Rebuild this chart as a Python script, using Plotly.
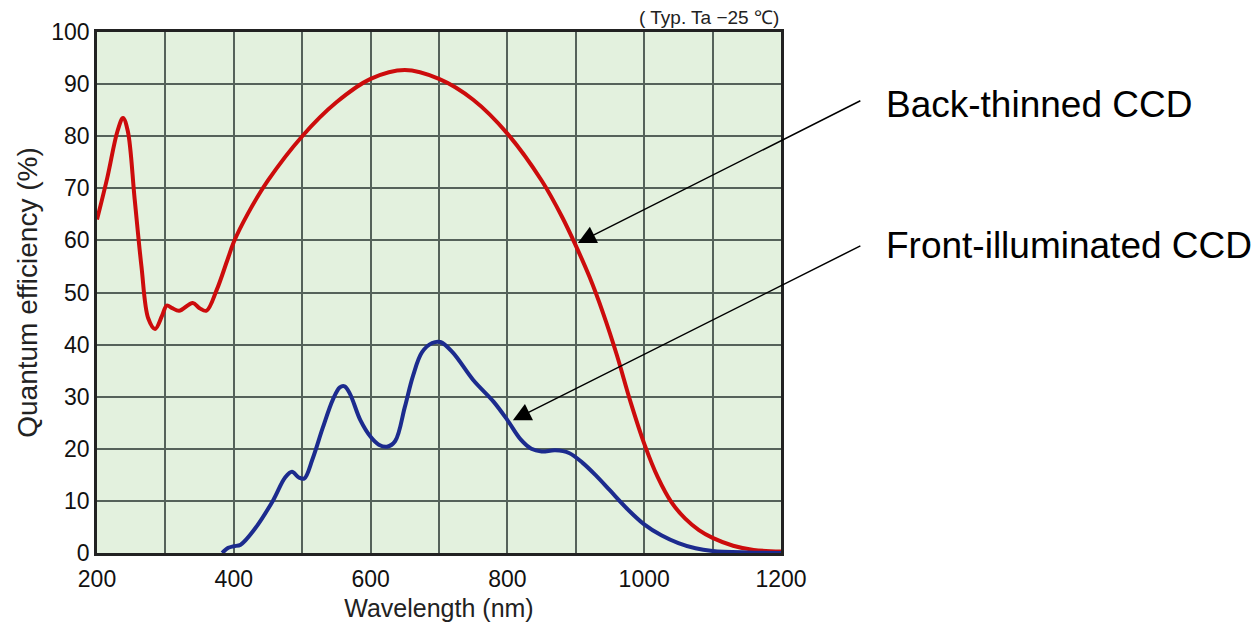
import plotly.graph_objects as go

# Back-thinned CCD (red)
bt_wl = [200, 215, 230, 238, 245, 255, 265, 275, 285, 295, 302, 310, 320, 340, 350, 360, 375, 390,
         400, 420, 450, 500, 550, 600, 650, 700, 750, 800, 850, 880, 900, 920, 940, 960, 980, 1000,
         1020, 1040, 1060, 1080, 1100, 1130, 1160, 1200]
bt_qe = [64, 72, 81, 83.5, 81, 68, 55, 45, 43, 45.5, 47.5, 47, 46.5, 48, 47, 46.5, 50.5, 56,
         59.7, 65, 71.5, 80, 86.5, 91, 92.7, 91, 87, 80.5, 71.5, 64.5, 59, 53, 46, 38, 29, 21,
         14.5, 9.7, 6.6, 4.4, 2.9, 1.4, 0.6, 0.3]

# Front-illuminated CCD (blue)
fi_wl = [383, 392, 400, 410, 430, 457, 475, 485, 495, 503, 515, 530, 545, 555, 562, 570, 585, 600,
         612, 624, 636, 650, 662, 675, 690, 702, 720, 750, 780, 800, 820, 835, 850, 870, 890, 910,
         930, 950, 975, 1000, 1025, 1050, 1075, 1100, 1150, 1200]
fi_qe = [0, 1, 1.3, 1.6, 4.5, 10, 14.5, 15.6, 14.5, 14.3, 18, 24, 29.5, 31.8, 32, 30.5, 25.5, 22.3,
         20.8, 20.4, 21.5, 28, 34, 38.5, 40.3, 40.5, 38.5, 33.2, 29, 25.5, 21.7, 20, 19.5, 19.7, 19.2, 17.3,
         14.8, 12, 8.5, 5.5, 3.4, 1.9, 0.9, 0.4, 0.1, 0]

x_tickvals = [200, 300, 400, 500, 600, 700, 800, 900, 1000, 1100, 1200]
x_ticktext = ["200", "", "400", "", "600", "", "800", "", "1000", "", "1200"]
y_tickvals = [0, 10, 20, 30, 40, 50, 60, 70, 80, 90, 100]
y_ticktext = ["0", "10", "20", "30", "40", "50", "60", "70", "80", "90", "100"]

FONT = "Liberation Sans, Arial, sans-serif"

fig = go.Figure()
fig.add_trace(go.Scatter(x=bt_wl, y=bt_qe, mode="lines", name="Back-thinned CCD",
                         line=dict(color="#cc0c0c", width=4, shape="spline", smoothing=1.0)))
fig.add_trace(go.Scatter(x=fi_wl, y=fi_qe, mode="lines", name="Front-illuminated CCD",
                         line=dict(color="#1c2b8e", width=4, shape="spline", smoothing=1.0)))

axis_common = dict(showline=True, linecolor="#222222", linewidth=2.5, mirror=True,
                   showgrid=True, gridcolor="#55625a", gridwidth=1.5, zeroline=False,
                   ticks="", tickfont=dict(family=FONT, size=23, color="#111111"))

fig.update_xaxes(range=[200, 1200], tickvals=x_tickvals, ticktext=x_ticktext,
                 ticklabelstandoff=4,
                 title=dict(text="Wavelength (nm)", font=dict(family=FONT, size=25, color="#222222"),
                            standoff=9),
                 **axis_common)
fig.update_yaxes(range=[0, 100], tickvals=y_tickvals, ticktext=y_ticktext,
                 title=dict(text="Quantum efficiency (%)", font=dict(family=FONT, size=28, color="#222222"),
                            standoff=6),
                 **axis_common)

annotations = [
    dict(x=903, y=59.5, xref="x", yref="y", ax=284, ay=-143, axref="pixel", ayref="pixel",
         text="", showarrow=True, arrowhead=2, arrowsize=2.4, arrowwidth=1.5, arrowcolor="#000000",
         standoff=0),
    dict(x=808, y=25.5, xref="x", yref="y", ax=349, ay=-175, axref="pixel", ayref="pixel",
         text="", showarrow=True, arrowhead=2, arrowsize=2.4, arrowwidth=1.5, arrowcolor="#000000",
         standoff=0),
    dict(x=1.150, y=0.86, xref="paper", yref="paper", xanchor="left", yanchor="middle",
         text="Back-thinned CCD", showarrow=False,
         font=dict(family=FONT, size=37, color="#000000")),
    dict(x=1.150, y=0.591, xref="paper", yref="paper", xanchor="left", yanchor="middle",
         text="Front-illuminated CCD", showarrow=False,
         font=dict(family=FONT, size=37, color="#000000")),
    dict(x=1.0, y=1.0, xref="paper", yref="paper", xanchor="right", yanchor="bottom", yshift=2,
         text="( Typ. Ta −25 ℃)", showarrow=False,
         font=dict(family=FONT, size=19, color="#222222")),
]

fig.update_layout(
    width=1260, height=631,
    margin=dict(l=89, r=487, t=24, b=86),
    paper_bgcolor="#ffffff", plot_bgcolor="#e3f1de",
    showlegend=False,
    annotations=annotations,
)

fig.write_html("out.html")
